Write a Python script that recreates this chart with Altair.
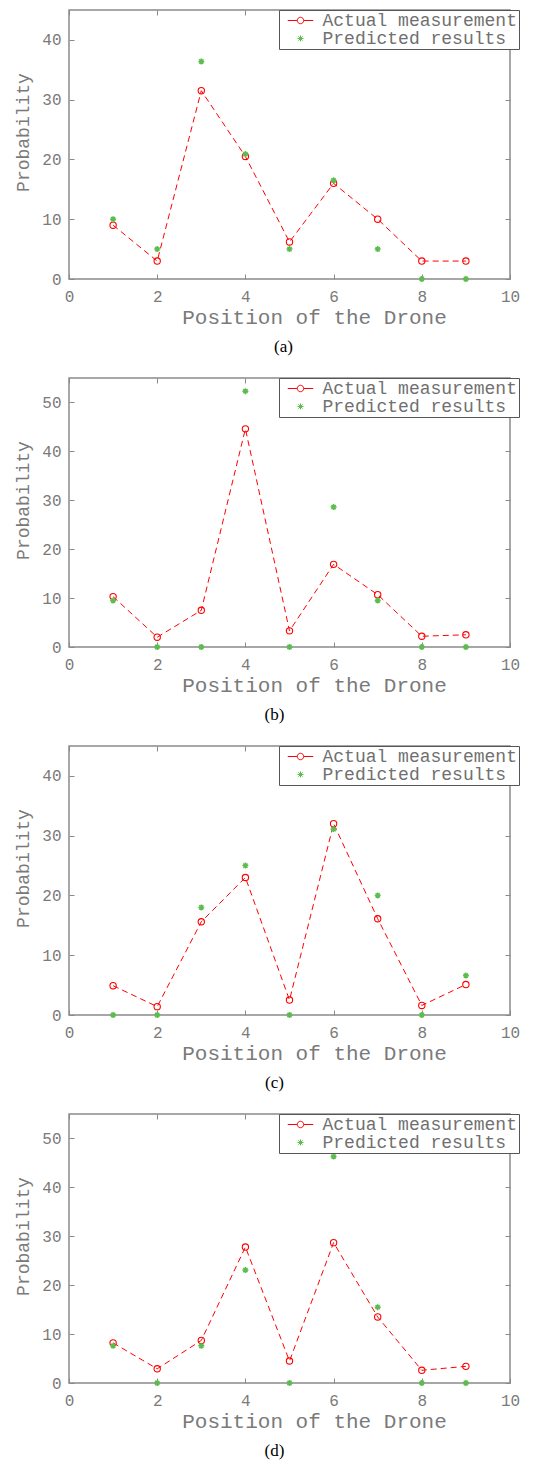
import altair as alt
import pandas as pd

# ---------------- data ----------------
POS = [1, 2, 3, 4, 5, 6, 7, 8, 9]
SERIES = ["Actual measurement", "Predicted results"]

ACT_A = [9.0, 3.0, 31.5, 20.5, 6.2, 16.0, 10.0, 3.0, 3.0]
PRED_A = [10.0, 5.0, 36.4, 20.9, 5.0, 16.5, 5.0, 0.0, 0.0]

ACT_B = [10.3, 2.0, 7.5, 44.6, 3.3, 16.9, 10.7, 2.2, 2.5]
PRED_B = [9.5, 0.0, 0.0, 52.3, 0.0, 28.6, 9.5, 0.0, 0.0]

ACT_C = [4.9, 1.4, 15.6, 23.0, 2.5, 32.0, 16.1, 1.6, 5.1]
PRED_C = [0.0, 0.0, 18.0, 25.0, 0.0, 31.1, 20.0, 0.0, 6.6]

ACT_D = [8.2, 2.9, 8.7, 27.8, 4.5, 28.7, 13.5, 2.6, 3.4]
PRED_D = [7.6, 0.0, 7.6, 23.1, 0.0, 46.3, 15.5, 0.0, 0.0]

X_TICKS = [0, 2, 4, 6, 8, 10]
Y_TICKS_45 = [0, 10, 20, 30, 40]
Y_TICKS_55 = [0, 10, 20, 30, 40, 50]

# ---------------- style ----------------
RED = "#ff0000"
GREEN = "#5cbd4f"
GRAY = "#8a8a8a"
TXT = "#7a7a7a"
MONO = "Liberation Mono"
SERIF = "Liberation Serif"
W, H = 441, 269
TICK = 5

ASTER = "M0,-1L0,1M-1,0L1,0M-0.7,-0.7L0.7,0.7M-0.7,0.7L0.7,-0.7"
LEG_LINE = ("M-1.5,0L-0.38,0M0.38,0L1.5,0"
            "M0.38,0A0.38,0.38 0 1,1 -0.38,0A0.38,0.38 0 1,1 0.38,0")
LEG_ASTER = ("M0,-0.35L0,0.35M-0.35,0L0.35,0M-0.25,-0.25L0.25,0.25"
             "M-0.25,0.25L0.25,-0.25")


def panel(actual, predicted, ymax, yticks, caption, cap_dx):
    df = pd.DataFrame({"pos": POS, "actual": actual, "pred": predicted})
    xs = alt.Scale(domain=[0, 10], nice=False, zero=False)
    ys = alt.Scale(domain=[0, ymax], nice=False, zero=True)

    x_bottom = alt.Axis(
        orient="bottom", values=X_TICKS, format="d", grid=False,
        domain=False, ticks=True, tickSize=TICK, offset=-TICK,
        tickColor=GRAY, tickWidth=1,
        labelFont=MONO, labelFontSize=16, labelColor=TXT, labelPadding=9,
        labelFlush=False, labelOverlap=False,
        title="Position of the Drone", titleFont=MONO, titleFontSize=21,
        titleFontWeight="normal", titleColor=TXT, titleX=245, titleY=49,
        titleAlign="center", titleBaseline="alphabetic",
    )
    y_left = alt.Axis(
        orient="left", values=yticks, format="d", grid=False,
        domain=False, ticks=True, tickSize=TICK, offset=-TICK,
        tickColor=GRAY, tickWidth=1,
        labelFont=MONO, labelFontSize=16, labelColor=TXT, labelPadding=8,
        labelFlush=False, labelOverlap=False,
        title="Probability", titleFont=MONO, titleFontSize=18,
        titleFontWeight="normal", titleColor=TXT, titleX=-51, titleY=122,
        titleAlign="center", titleBaseline="middle",
    )
    x_top = alt.Axis(
        orient="top", values=X_TICKS, grid=False, domain=False,
        labels=False, ticks=True, tickSize=TICK, offset=-TICK,
        tickColor=GRAY, tickWidth=1, title=None,
    )
    y_right = alt.Axis(
        orient="right", values=yticks, grid=False, domain=False,
        labels=False, ticks=True, tickSize=TICK, offset=-TICK,
        tickColor=GRAY, tickWidth=1, title=None,
    )

    base = alt.Chart(df)
    line = base.mark_line(color=RED, strokeDash=[6, 4], strokeWidth=1).encode(
        x=alt.X("pos:Q", scale=xs, axis=x_bottom),
        y=alt.Y("actual:Q", scale=ys, axis=y_left),
    )
    circles = base.mark_point(
        shape="circle", filled=False, color=RED, size=40, strokeWidth=1.1,
        opacity=1,
    ).encode(
        x=alt.X("pos:Q", scale=xs, axis=None),
        y=alt.Y("actual:Q", scale=ys, axis=None),
    )
    stars = base.mark_point(
        shape=ASTER, filled=False, color=GREEN, size=36, strokeWidth=1.5,
        opacity=1,
    ).encode(
        x=alt.X("pos:Q", scale=xs, axis=None),
        y=alt.Y("pred:Q", scale=ys, axis=None),
    )
    mirror = base.mark_point(opacity=0).encode(
        x=alt.X("pos:Q", scale=xs, axis=x_top),
        y=alt.Y("actual:Q", scale=ys, axis=y_right),
    )

    leg = alt.Legend(
        title=None, orient="none", legendX=210, legendY=0,
        direction="vertical", padding=1.5, fillColor="white",
        strokeColor="#555555", cornerRadius=0,
        labelFont=MONO, labelFontSize=18, labelColor="#707070",
        labelLimit=400, labelOffset=13,
        symbolSize=289, symbolStrokeWidth=1, symbolOpacity=1,
        symbolOffset=11, rowPadding=0,
    )
    legend_layer = alt.Chart(pd.DataFrame({"series": SERIES})).mark_point(
        opacity=0, filled=False
    ).encode(
        color=alt.Color("series:N",
                        scale=alt.Scale(domain=SERIES, range=[RED, GREEN]),
                        legend=leg),
        shape=alt.Shape("series:N",
                        scale=alt.Scale(domain=SERIES,
                                        range=[LEG_LINE, LEG_ASTER]),
                        legend=leg),
    )

    return alt.layer(line, circles, stars, mirror, legend_layer).resolve_axis(
        x="independent", y="independent"
    ).properties(
        width=W, height=H,
        title=alt.TitleParams(
            text=caption, orient="bottom", anchor="middle", frame="group",
            dx=cap_dx, offset=12, font=SERIF, fontSize=17,
            fontWeight="normal", color="black",
        ),
    )


pa = panel(ACT_A, PRED_A, 45, Y_TICKS_45, "(a)", -6)
pb = panel(ACT_B, PRED_B, 55, Y_TICKS_55, "(b)", -15)
pc = panel(ACT_C, PRED_C, 45, Y_TICKS_45, "(c)", -15)
pd_ = panel(ACT_D, PRED_D, 55, Y_TICKS_55, "(d)", -15)

chart = alt.vconcat(
    pa, pb, pc, pd_,
    spacing=20,
).resolve_scale(
    color="independent", shape="independent"
).properties(
    padding={"left": 5, "top": 0, "right": 0, "bottom": 0},
    background="white",
).configure_view(
    stroke=GRAY, strokeWidth=1.5
)

chart.save("out.html", embed_options={"renderer": "svg", "actions": False})
